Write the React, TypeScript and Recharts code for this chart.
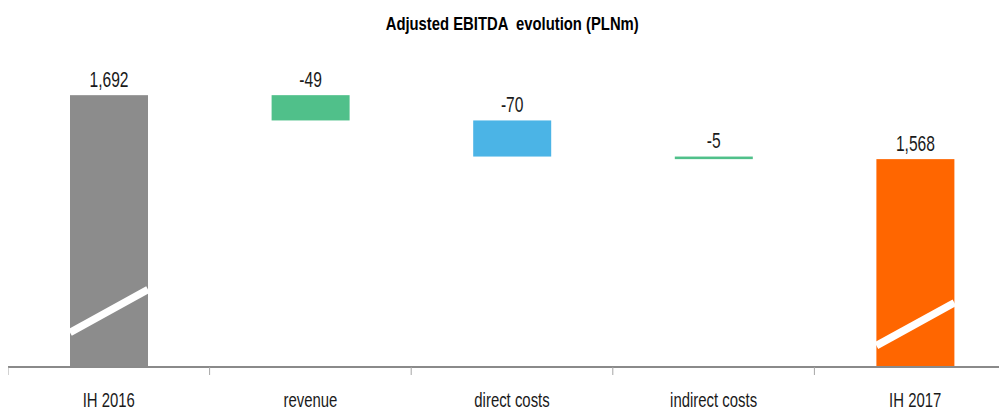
import { Bar, BarChart, LabelList, XAxis, YAxis } from 'recharts';

// Adjusted EBITDA bridge, PLN m
const categories = ['IH 2016', 'revenue', 'direct costs', 'indirect costs', 'IH 2017'];
const amounts = [1692, -49, -70, -5, 1568];
const isTotal = [true, false, false, false, true];

// value axis is cut below this level (drawn as a slash on the total bars)
const AXIS_FLOOR = 1165;
const AXIS_CEIL = 1766;

const barColors = ['#8c8c8c', '#50c08a', '#4bb4e6', '#50c08a', '#ff6600'];
const FONT = "'Liberation Sans', Arial, sans-serif";
// no narrow face installed, so squeeze the regular one horizontally
const NARROW = 0.71;

type Row = { name: string; span: [number, number]; label: string; total: boolean; color: string };

function buildRows(): Row[] {
  let running = 0;
  return categories.map((name, i) => {
    const v = amounts[i];
    let span: [number, number];
    if (isTotal[i]) {
      span = [AXIS_FLOOR, v];
      running = v;
    } else {
      const next = running + v;
      span = [Math.min(running, next), Math.max(running, next)];
      running = next;
    }
    return {
      name,
      span,
      label: isTotal[i] ? v.toLocaleString('en-US') : String(v),
      total: isTotal[i],
      color: barColors[i],
    };
  });
}

const rows = buildRows();

function NarrowText({ x, y, size = 22, children }: { x: number; y: number; size?: number; children: React.ReactNode }) {
  return (
    <g transform={`translate(${x},${y}) scale(${NARROW},1)`}>
      <text x={0} y={0} textAnchor="middle" dominantBaseline="central" fontFamily={FONT} fontSize={size} fill="#1a1a1a">
        {children}
      </text>
    </g>
  );
}

function WaterfallBar(props: any) {
  const { x, y, width, height, payload } = props;
  const w = Number(width);
  const h = Number(height);
  const bottom = y + h;
  const yc = bottom - 0.206 * h;
  const rise = 0.275 * w;
  return (
    <g>
      <rect x={x} y={y} width={w} height={h} fill={payload.color} />
      {payload.total && (
        <line x1={x} y1={yc + rise} x2={x + w} y2={yc - rise} stroke="#fff" strokeWidth={7.5} />
      )}
    </g>
  );
}

function BarLabel(props: any) {
  const { x, y, width, index } = props;
  return (
    <NarrowText x={Number(x) + Number(width) / 2} y={Number(y) - 16}>
      {rows[index].label}
    </NarrowText>
  );
}

function CategoryTick(props: any) {
  const { x, y, payload, width, visibleTicksCount } = props;
  const band = Number(width) / Number(visibleTicksCount);
  const left = x - band / 2;
  return (
    <g>
      <line x1={left} y1={y} x2={left} y2={y + 8} stroke="#a6a6a6" strokeWidth={1} />
      <NarrowText x={x} y={y + 33} size={21}>
        {payload.value}
      </NarrowText>
    </g>
  );
}

export default function App() {
  return (
    <div style={{ position: 'relative', width: 999, height: 404, overflow: 'hidden', background: '#fff' }}>
      <div
        style={{
          position: 'absolute',
          top: 5,
          left: 0,
          width: 1008,
          textAlign: 'center',
          lineHeight: '22px',
        }}
      >
        <span
          style={{
            display: 'inline-block',
            transform: 'scaleX(0.78)',
            fontFamily: FONT,
            fontWeight: 'bold',
            fontSize: 19,
            color: '#000',
            whiteSpace: 'pre',
          }}
        >
          {'Adjusted EBITDA  evolution (PLNm)'}
        </span>
      </div>
      <BarChart width={1008} height={404} data={rows} margin={{ top: 49, right: 0, left: 0, bottom: 0 }}>
        <XAxis
          dataKey="name"
          height={45}
          tickSize={0}
          tickMargin={0}
          tickLine={false}
          axisLine={{ stroke: '#8a8a8a', strokeWidth: 2 }}
          tick={<CategoryTick />}
          interval={0}
        />
        <YAxis hide domain={[AXIS_FLOOR, AXIS_CEIL]} allowDataOverflow />
        <Bar dataKey="span" barSize={78} shape={<WaterfallBar />} isAnimationActive={false}>
          <LabelList dataKey="span" content={<BarLabel />} />
        </Bar>
      </BarChart>
    </div>
  );
}
